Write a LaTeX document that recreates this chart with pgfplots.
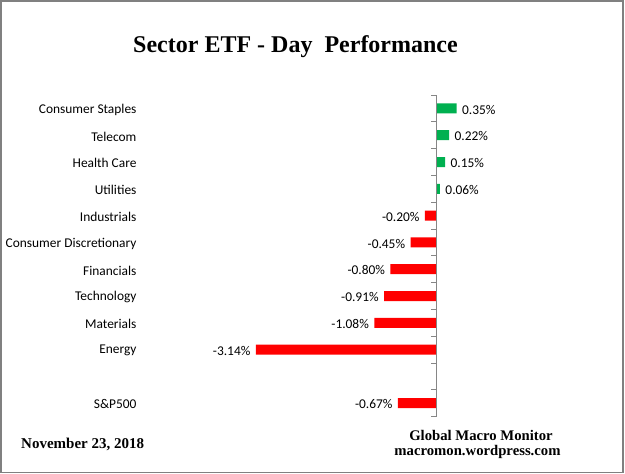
\documentclass[border=0pt]{standalone}
\usepackage{pgfplots}
\pgfplotsset{compat=1.18}
\usepackage{fontspec}
\setmainfont{Liberation Serif}
\newfontfamily\carlito{Carlito}
\definecolor{xgreen}{HTML}{00B050}
\definecolor{xred}{HTML}{FF0000}
\definecolor{axgray}{HTML}{868686}
\definecolor{bordergray}{HTML}{808080}
\begin{document}
\begin{tikzpicture}
\useasboundingbox (0,0) rectangle (625pt,-474pt);
\begin{axis}[
  at={(143.25pt,-416.6pt)}, anchor=south west,
  scale only axis, width=460pt, height=321.6pt,
  xmin=-5.1, xmax=2.9, ymin=-0.5, ymax=11.5, y dir=reverse,
  xbar, bar width=10pt, bar shift=0pt,
  hide x axis,
  axis y line*=left,
  y axis line style={draw=none},
  ytick style={draw=none},
  ytick={0,1,2,3,4,5,6,7,8,9,11},
  yticklabels={Consumer Staples,Telecom,Health Care,Utilities,Industrials,Consumer Discretionary,Financials,Technology,Materials,Energy,S\&P500},
  yticklabel style={font=\carlito\fontsize{13.4}{15}\selectfont, text=black, xshift=1pt, yshift=-1.2pt},
  clip=false,
  point meta=explicit symbolic,
  nodes near coords,
]
\addplot[fill=xgreen, draw=none,
  every node near coord/.append style={anchor=west, font=\carlito\fontsize{13.4}{15}\selectfont, text=black, xshift=2pt, yshift=-1.2pt}]
  coordinates {(0.35,0)[0.35\%] (0.22,1)[0.22\%] (0.15,2)[0.15\%] (0.06,3)[0.06\%]};
\addplot[fill=xred, draw=none,
  every node near coord/.append style={anchor=east, font=\carlito\fontsize{13.4}{15}\selectfont, text=black, xshift=-2pt, yshift=-1.2pt}]
  coordinates {(-0.20,4)[-0.20\%] (-0.45,5)[-0.45\%] (-0.80,6)[-0.80\%] (-0.91,7)[-0.91\%] (-1.08,8)[-1.08\%] (-3.14,9)[-3.14\%] (-0.67,11)[-0.67\%]};
\draw[axgray, line width=1pt] (axis cs:0,-0.5) -- (axis cs:0,11.5);
\pgfplotsinvokeforeach{-0.5,0.5,1.5,2.5,3.5,4.5,5.5,6.5,7.5,8.5,9.5,10.5,11.5}{
  \draw[axgray, line width=1pt] (axis cs:0,#1) -- ([xshift=-5pt]axis cs:0,#1);
}
\end{axis}
\node[anchor=base, font=\fontsize{24}{28}\selectfont\bfseries, inner sep=0pt] at (295.5pt,-52pt) {Sector ETF - Day~~Performance};
\node[anchor=base west, font=\fontsize{15}{18}\selectfont\bfseries, inner sep=0pt] at (21pt,-448.3pt) {November 23, 2018};
\node[anchor=base, font=\fontsize{14.7}{17}\selectfont\bfseries, inner sep=0pt] at (481pt,-440pt) {Global Macro Monitor};
\node[anchor=base, font=\fontsize{14.7}{17}\selectfont\bfseries, inner sep=0pt] at (477.5pt,-455.7pt) {macromon.wordpress.com};
\draw[bordergray, line width=1.5pt] (1pt,-1pt) rectangle (623pt,-472.5pt);
\end{tikzpicture}
\end{document}
